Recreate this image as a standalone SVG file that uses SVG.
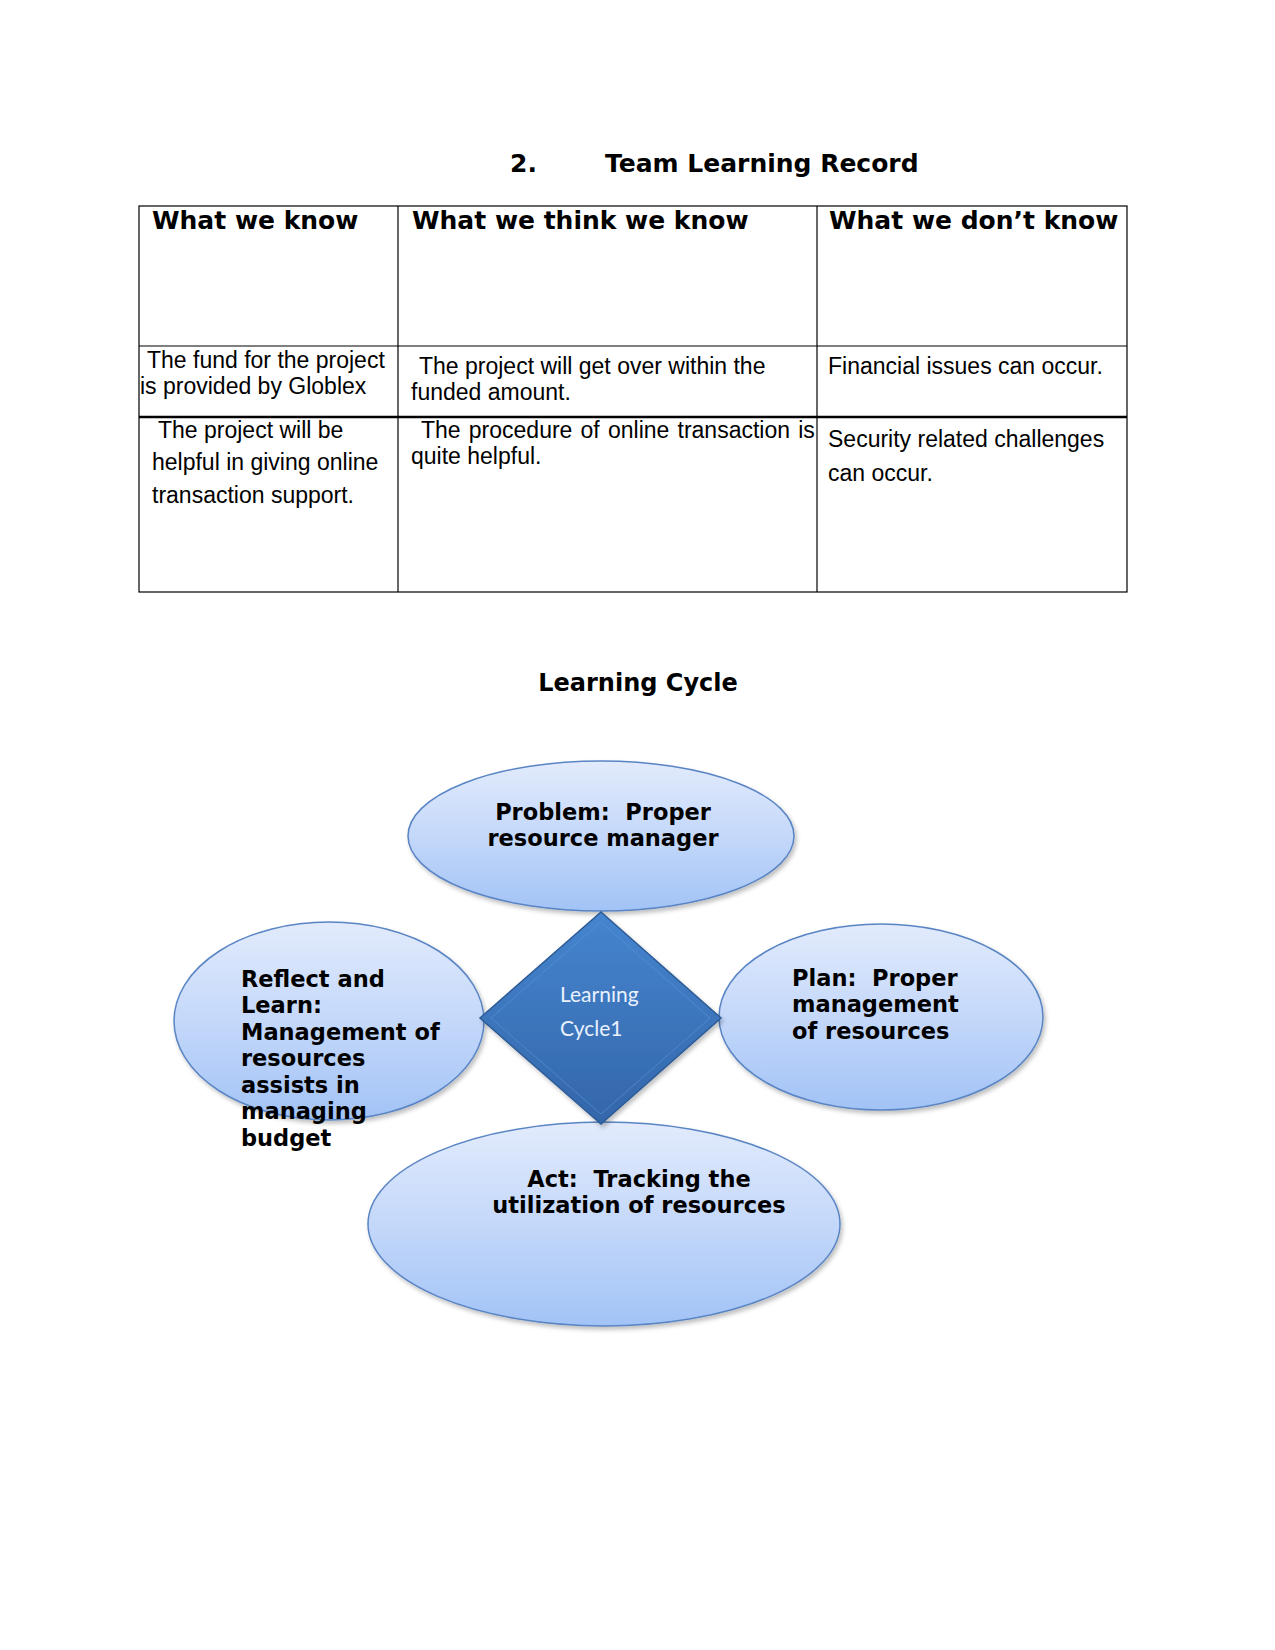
<svg xmlns="http://www.w3.org/2000/svg" width="1275" height="1650" viewBox="0 0 1275 1650">
<style>
.h{font-family:"DejaVu Sans",sans-serif;font-weight:bold;fill:#000;white-space:pre}
.b{font-family:"Liberation Sans",Arial,sans-serif;font-size:23px;fill:#000;white-space:pre}
.e{font-family:"DejaVu Sans",sans-serif;font-weight:bold;font-size:22.5px;fill:#000;white-space:pre}
.ell{fill:url(#eg);stroke:#5a85c4;stroke-width:1.5;filter:url(#sh)}
.ln{stroke:#000;stroke-width:1.2;fill:none}
</style>
<defs>
<linearGradient id="eg" x1="0" y1="0" x2="0" y2="1">
<stop offset="0" stop-color="#e2ebfc"/>
<stop offset="0.5" stop-color="#c4d8fa"/>
<stop offset="1" stop-color="#a2c3f6"/>
</linearGradient>
<linearGradient id="dg" x1="0" y1="0" x2="0" y2="1">
<stop offset="0" stop-color="#4585cf"/>
<stop offset="1" stop-color="#3466aa"/>
</linearGradient>
<filter id="sh" x="-10%" y="-10%" width="130%" height="130%">
<feDropShadow dx="2" dy="3" stdDeviation="2" flood-color="#000" flood-opacity="0.25"/>
</filter>
</defs>
<rect width="1275" height="1650" fill="#fff"/>
<text class="h" x="510" y="172" font-size="25">2.</text>
<text class="h" x="605" y="172" font-size="25">Team Learning Record</text>
<g id="table">
<rect class="ln" x="139" y="206" width="988" height="386"/>
<line class="ln" x1="398" y1="206" x2="398" y2="592"/>
<line class="ln" x1="817" y1="206" x2="817" y2="592"/>
<line class="ln" x1="139" y1="346" x2="1127" y2="346"/>
<line x1="139" y1="417" x2="1127" y2="417" stroke="#000" stroke-width="2.4"/>
<text class="h" x="152" y="229" font-size="25">What we know</text>
<text class="h" x="412" y="229" font-size="25">What we think we know</text>
<text class="h" x="829" y="229" font-size="25">What we don’t know</text>
<text class="b" x="147" y="368">The fund for the project</text>
<text class="b" x="140" y="394">is provided by Globlex</text>
<text class="b" x="419" y="374">The project will get over within the</text>
<text class="b" x="411" y="400">funded amount.</text>
<text class="b" x="828" y="374">Financial issues can occur.</text>
<text class="b" x="158" y="438">The project will be</text>
<text class="b" x="152" y="470">helpful in giving online</text>
<text class="b" x="152" y="503">transaction support.</text>
<text class="b" x="421" y="438" word-spacing="1.8">The procedure of online transaction is</text>
<text class="b" x="411" y="464">quite helpful.</text>
<text class="b" x="828" y="447">Security related challenges</text>
<text class="b" x="828" y="481">can occur.</text>
</g>
<text class="h" x="638" y="691" font-size="24" text-anchor="middle">Learning Cycle</text>
<g id="connectors"></g>
<g id="problem">
<ellipse class="ell" cx="601" cy="836" rx="193" ry="75"/>
<text class="e" x="603" y="820" text-anchor="middle">Problem:  Proper</text>
<text class="e" x="603" y="846" text-anchor="middle">resource manager</text>
</g>
<g id="reflect">
<ellipse class="ell" cx="329" cy="1021" rx="155" ry="99"/>
<text class="e" x="241" y="987">Reflect and</text>
<text class="e" x="241" y="1013">Learn:</text>
<text class="e" x="241" y="1040">Management of</text>
<text class="e" x="241" y="1066">resources</text>
<text class="e" x="241" y="1093">assists in</text>
<text class="e" x="241" y="1119">managing</text>
<text class="e" x="241" y="1146">budget</text>
</g>
<g id="plan">
<ellipse class="ell" cx="881" cy="1017" rx="162" ry="93"/>
<text class="e" x="792" y="986">Plan:  Proper</text>
<text class="e" x="792" y="1012">management</text>
<text class="e" x="792" y="1039">of resources</text>
</g>
<g id="act">
<ellipse class="ell" cx="604" cy="1224" rx="236" ry="102"/>
<text class="e" x="639" y="1187" text-anchor="middle">Act:  Tracking the</text>
<text class="e" x="639" y="1213" text-anchor="middle">utilization of resources</text>
</g>
<g id="center">
<polygon points="601,912 721,1018 601,1124 480,1018" fill="url(#dg)" stroke="#2d5b96" stroke-width="1.5" filter="url(#sh)"/>
<polygon points="601,922 710,1018 601,1114 491,1018" fill="none" stroke="#5b95d6" stroke-width="1" opacity="0.6"/>
<text x="560" y="1002" font-family="Lato,'Open Sans',sans-serif" font-size="21" fill="#eaf1ff">Learning</text>
<text x="560" y="1036" font-family="Lato,'Open Sans',sans-serif" font-size="21" fill="#eaf1ff">Cycle1</text>
</g>
</svg>
